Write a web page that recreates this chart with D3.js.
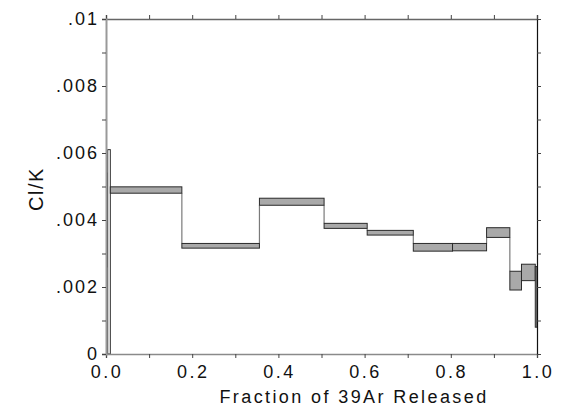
<!DOCTYPE html>
<html>
<head>
<meta charset="utf-8">
<script src="https://cdn.jsdelivr.net/npm/d3@7"></script>
<style>
  html, body { margin: 0; padding: 0; background: #fff; }
  svg { display: block; }
  text { font-family: "Liberation Sans", Arial, sans-serif; fill: #111; }
</style>
</head>
<body>
<svg id="chart" width="563" height="408"></svg>
<script>
// Cumulative fraction of 39Ar at the edges of each heating step
const stepEdges = [0, 0.004, 0.010, 0.176, 0.356, 0.506, 0.606, 0.713, 0.804, 0.883, 0.937, 0.964, 0.996, 1.0];
// Cl/K range (lower / upper bound) for each step
const clkLow  = [0.0026, 0.0000, 0.00480, 0.00316, 0.00444, 0.00375, 0.00355, 0.00307, 0.00308, 0.00348, 0.00191, 0.00219, 0.00080];
const clkHigh = [0.0054, 0.0061, 0.00499, 0.00330, 0.00465, 0.00390, 0.00369, 0.00330, 0.00330, 0.00377, 0.00247, 0.00268, 0.00261];
const stepFill = ["#777777", "#ffffff", "#a9a9a9", "#a9a9a9", "#a9a9a9", "#a9a9a9", "#a9a9a9", "#a9a9a9", "#a9a9a9", "#a9a9a9", "#a9a9a9", "#a9a9a9", "#a9a9a9"];

const xTicks = [0, 0.2, 0.4, 0.6, 0.8, 1.0];
const xTickLabels = ["0.0", "0.2", "0.4", "0.6", "0.8", "1.0"];
const yTicks = [0, 0.002, 0.004, 0.006, 0.008, 0.01];
const yTickLabels = ["0", ".002", ".004", ".006", ".008", ".01"];

const xLabel = "Fraction of 39Ar Released";
const yLabel = "Cl/K";

const M = { left: 106, right: 537, top: 19, bottom: 354 };

const svg = d3.select("#chart");
const x = d3.scaleLinear().domain([0, 1]).range([M.left, M.right]);
const y = d3.scaleLinear().domain([0, 0.01]).range([M.bottom, M.top]);

svg.append("defs").append("clipPath").attr("id", "plot-clip")
  .append("rect").attr("x", M.left).attr("y", M.top)
  .attr("width", M.right - M.left).attr("height", M.bottom - M.top);

const steps = clkLow.map((lo, i) => ({
  x0: stepEdges[i], x1: stepEdges[i + 1], lo, hi: clkHigh[i], fill: stepFill[i]
}));

const plot = svg.append("g").attr("clip-path", "url(#plot-clip)");

// vertical connectors between consecutive steps
const connectors = [];
for (let i = 1; i < steps.length; i++) {
  const a = steps[i - 1], b = steps[i];
  let y0, y1;
  if (b.lo > a.hi) { y0 = a.hi; y1 = b.lo; }
  else if (b.hi < a.lo) { y0 = b.hi; y1 = a.lo; }
  else continue;
  connectors.push({ xv: b.x0, y0, y1 });
}
plot.selectAll("line.conn").data(connectors).join("line")
  .attr("class", "conn")
  .attr("x1", d => x(d.xv)).attr("x2", d => x(d.xv))
  .attr("y1", d => y(d.y0)).attr("y2", d => y(d.y1))
  .attr("stroke", "#7a7a7a").attr("stroke-width", 1.2);

plot.selectAll("rect.step").data(steps).join("rect")
  .attr("class", "step")
  .attr("x", d => x(d.x0))
  .attr("width", d => Math.max(1, x(d.x1) - x(d.x0)))
  .attr("y", d => y(d.hi))
  .attr("height", d => y(d.lo) - y(d.hi))
  .attr("fill", d => d.fill)
  .attr("stroke", "#2a2a2a").attr("stroke-width", 1);

// axes: ticks every 0.1 / 0.001, labels on major ticks only
const xMinor = d3.range(0, 1.0001, 0.1);
const yMinor = d3.range(0, 0.01001, 0.001);

const axisBottom = d3.axisBottom(x).tickValues(xMinor).tickSize(4).tickFormat("");
const axisTop = d3.axisTop(x).tickValues(xMinor).tickSize(4).tickFormat("");
const axisLeft = d3.axisLeft(y).tickValues(yMinor).tickSize(4).tickFormat("");
const axisRight = d3.axisRight(y).tickValues(yMinor).tickSize(4).tickFormat("");

function styleAxis(g, color, width) {
  g.select(".domain").attr("stroke", color).attr("stroke-width", width);
  g.selectAll(".tick line").attr("stroke", "#444").attr("stroke-width", 1);
}

svg.append("g").attr("transform", `translate(0,${M.bottom})`).call(axisBottom)
  .call(g => styleAxis(g, "#8a8a8a", 1.5));
svg.append("g").attr("transform", `translate(0,${M.top})`).call(axisTop)
  .call(g => styleAxis(g, "#666", 1.5));
svg.append("g").attr("transform", `translate(${M.left},0)`).call(axisLeft)
  .call(g => styleAxis(g, "#999", 2));
svg.append("g").attr("transform", `translate(${M.right},0)`).call(axisRight)
  .call(g => styleAxis(g, "#111", 1.2));
svg.selectAll(".domain").attr("fill", "none");

// tick labels
svg.append("g").selectAll("text").data(xTicks).join("text")
  .attr("x", d => x(d) + 1).attr("y", 378)
  .attr("text-anchor", "middle")
  .style("font-size", "18px").style("letter-spacing", "2.5px")
  .text((d, i) => xTickLabels[i]);

svg.append("g").selectAll("text").data(yTicks).join("text")
  .attr("x", 99).attr("y", d => y(d) + 5.5)
  .attr("text-anchor", "end")
  .style("font-size", "18px").style("letter-spacing", "2px")
  .text((d, i) => yTickLabels[i]);

// axis titles
svg.append("text")
  .attr("x", 354).attr("y", 403)
  .attr("text-anchor", "middle")
  .style("font-size", "18px").style("letter-spacing", "2.4px")
  .text(xLabel);

svg.append("text")
  .attr("transform", `translate(43,189) rotate(-90)`)
  .attr("text-anchor", "middle")
  .style("font-size", "20px").style("letter-spacing", "1.5px")
  .text(yLabel);
</script>
</body>
</html>
